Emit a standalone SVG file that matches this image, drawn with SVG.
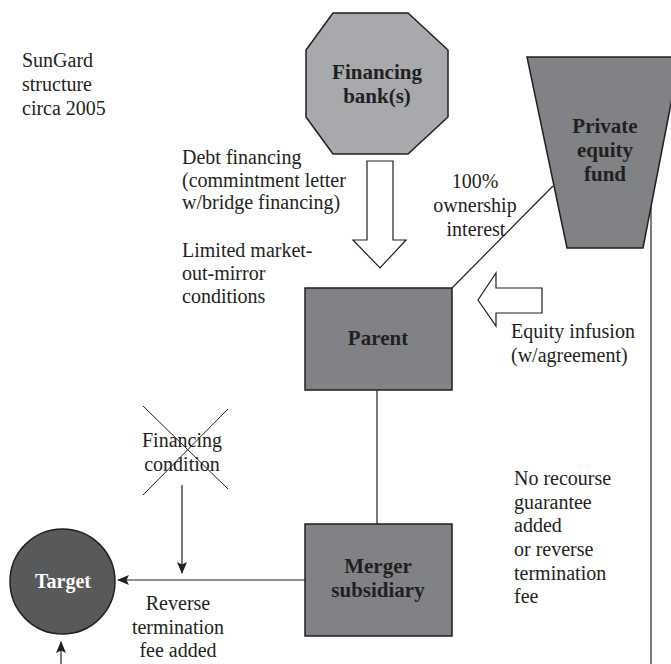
<svg xmlns="http://www.w3.org/2000/svg" width="671" height="664" viewBox="0 0 671 664">
<defs>
<style>
.lbl{font-family:"Liberation Serif","Times New Roman",serif;font-size:20px;fill:#231f20}
.node{font-family:"Liberation Serif","Times New Roman",serif;font-size:21px;font-weight:bold;fill:#231f20;text-anchor:middle}
.ln{stroke:#231f20;stroke-width:1.2;fill:none}
.blk{fill:#ffffff;stroke:#231f20;stroke-width:1.2}
.dark{fill:#808285;stroke:#231f20;stroke-width:1.5}
.mid{text-anchor:middle}
</style>
<marker id="ah" viewBox="0 0 12 10" refX="11" refY="5" markerWidth="12" markerHeight="10" markerUnits="userSpaceOnUse" orient="auto">
<path d="M0,0 L12,5 L0,10 L2.5,5 z" fill="#231f20"/>
</marker>
</defs>
<rect width="671" height="664" fill="#ffffff"/>

<g id="connectors">
<line class="ln" x1="452" y1="288" x2="553" y2="186"/>
<line class="ln" x1="377" y1="390" x2="377" y2="524"/>
<line class="ln" x1="651" y1="205" x2="651" y2="664"/>
<line class="ln" x1="305" y1="580" x2="118" y2="580" marker-end="url(#ah)"/>
<line class="ln" x1="182" y1="485" x2="182" y2="573" marker-end="url(#ah)"/>
<line class="ln" x1="61" y1="664" x2="61" y2="642" marker-end="url(#ah)"/>
<path id="debt-arrow" class="blk" d="M367,161 L393,161 L393,240 L406,240 L380,268 L353,240 L367,240 Z"/>
<path id="equity-arrow" class="blk" d="M542,288 L542,313 L496,313 L496,326 L478,300 L496,273 L496,288 Z"/>
</g>

<g id="bank">
<polygon points="333,13 408,13 448,50 448,117 408,154 333,154 306,117 306,50" fill="#a7a9ac" stroke="#231f20" stroke-width="1.5"/>
<text class="node" x="377" y="79">Financing</text>
<text class="node" x="377" y="103">bank(s)</text>
</g>

<g id="pefund">
<polygon points="527,57 680,57 643,248 567,248" class="dark"/>
<text class="node" x="605" y="133">Private</text>
<text class="node" x="605" y="157">equity</text>
<text class="node" x="605" y="181">fund</text>
</g>

<g id="parent">
<rect x="305" y="288" width="147" height="102" class="dark"/>
<text class="node" x="378" y="345">Parent</text>
</g>

<g id="merger">
<rect x="305" y="524" width="147" height="112" class="dark"/>
<text class="node" x="378" y="573">Merger</text>
<text class="node" x="378" y="597">subsidiary</text>
</g>

<g id="target">
<circle cx="62.5" cy="581.5" r="52.5" fill="#58595b" stroke="#231f20" stroke-width="1.5"/>
<text class="node" x="63" y="588" style="fill:#ffffff;font-size:20px">Target</text>
</g>

<g id="labels">
<text class="lbl" x="22" y="67">SunGard</text>
<text class="lbl" x="22" y="91">structure</text>
<text class="lbl" x="22" y="115">circa 2005</text>

<text class="lbl" x="182" y="164">Debt financing</text>
<text class="lbl" x="182" y="187">(commintment letter</text>
<text class="lbl" x="182" y="209">w/bridge financing)</text>

<text class="lbl" x="182" y="257">Limited market-</text>
<text class="lbl" x="182" y="280">out-mirror</text>
<text class="lbl" x="182" y="303">conditions</text>

<text class="lbl mid" x="475" y="188">100%</text>
<text class="lbl mid" x="475" y="212">ownership</text>
<text class="lbl mid" x="476" y="236">interest</text>

<text class="lbl" x="511" y="338">Equity infusion</text>
<text class="lbl" x="511" y="362">(w/agreement)</text>

<text class="lbl" x="514" y="485">No recourse</text>
<text class="lbl" x="514" y="509">guarantee</text>
<text class="lbl" x="514" y="532">added</text>
<text class="lbl" x="514" y="556">or reverse</text>
<text class="lbl" x="514" y="580">termination</text>
<text class="lbl" x="514" y="603">fee</text>

<text class="lbl mid" x="182" y="447">Financing</text>
<text class="lbl mid" x="182" y="471">condition</text>
<line class="ln" x1="143" y1="406" x2="228" y2="489" style="stroke-width:1"/>
<line class="ln" x1="228" y1="409" x2="143" y2="495" style="stroke-width:1"/>

<text class="lbl mid" x="178" y="610">Reverse</text>
<text class="lbl mid" x="178" y="634">termination</text>
<text class="lbl mid" x="178" y="657">fee added</text>
</g>
</svg>
